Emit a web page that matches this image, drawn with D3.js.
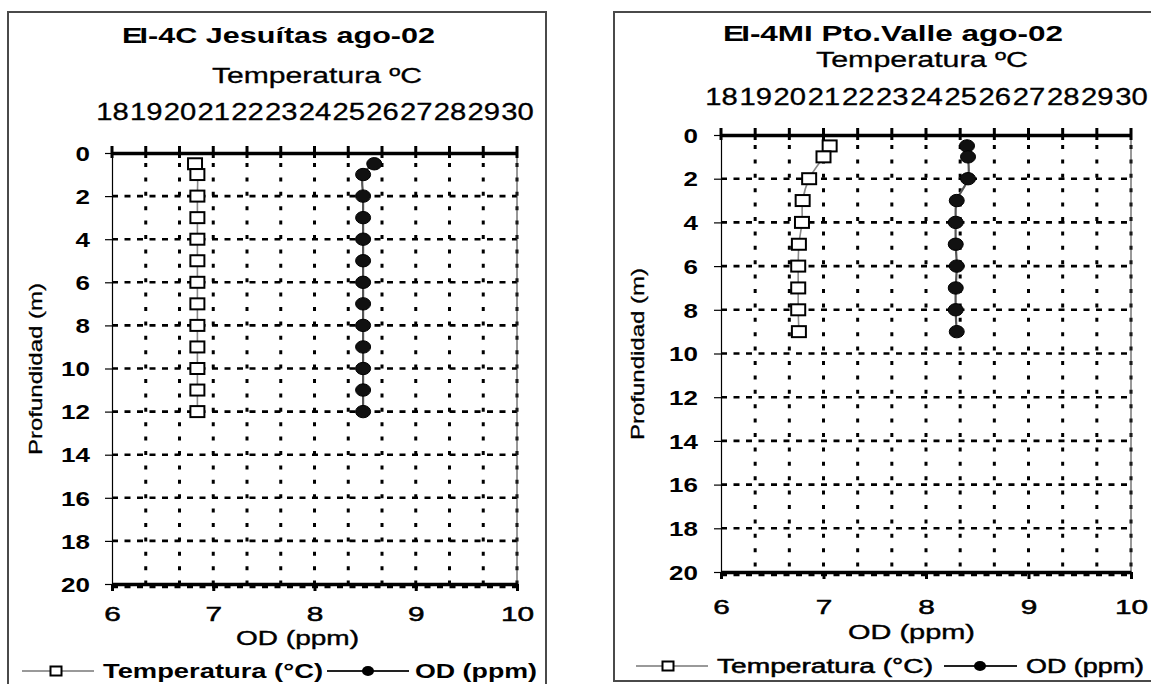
<!DOCTYPE html>
<html><head><meta charset="utf-8">
<script src="https://cdn.jsdelivr.net/npm/d3@7"></script>
<style>
html,body{margin:0;padding:0;background:#fff;}
svg{display:block;font-family:"Liberation Sans",Arial,sans-serif;}
</style></head>
<body>
<svg id="c" width="1151" height="684"></svg>
<script>
// ---- shared tick labels ----
const tempTicks = [18,19,20,21,22,23,24,25,26,27,28,29,30];
const odTicks = [6,7,8,9,10];
const depthTicks = [0,2,4,6,8,10,12,14,16,18,20];

// ---- chart 1 : EI-4C Jesuítas ago-02 ----
const jesDepth = [0.5,1,2,3,4,5,6,7,8,9,10,11,12];
const jesTemp  = [20.46,20.53,20.53,20.53,20.53,20.53,20.53,20.53,20.53,20.53,20.53,20.53,20.53];
const jesOD    = [8.59,8.48,8.48,8.48,8.48,8.48,8.48,8.48,8.48,8.48,8.48,8.48,8.48];

// ---- chart 2 : EI-4MI Pto.Valle ago-02 ----
const pvDepth = [0.5,1,2,3,4,5,6,7,8,9];
const pvTemp  = [21.18,21.0,20.58,20.39,20.37,20.28,20.26,20.26,20.26,20.28];
const pvOD    = [8.40,8.41,8.41,8.30,8.29,8.29,8.30,8.29,8.29,8.30];

const svg = d3.select("#c");

function addText(g, str, x, y, o){
  const t = g.append("text").attr("x", x).attr("y", y)
    .attr("font-size", o.size).attr("font-weight", o.weight||"normal")
    .attr("fill", "#000").text(str);
  if (o.width){ t.attr("textLength", o.width).attr("lengthAdjust","spacingAndGlyphs"); }
  if (o.anchor) t.attr("text-anchor", o.anchor);
  if (o.rotate!=null) t.attr("transform", `rotate(${o.rotate},${o.rx},${o.ry})`);
  if (o.dy) t.attr("dy", o.dy);
  if (o.stroke) t.attr("stroke", "#000").attr("stroke-width", o.stroke);
  return t;
}
function stretch(sel, sx){
  sel.each(function(){
    const t = d3.select(this);
    const x = +t.attr("x") || 0;
    t.attr("x", x / sx).attr("transform", `scale(${sx},1)`);
  });
}

function drawChart(cfg){
  const g = svg.append("g");
  // frame
  g.append("rect").attr("x", cfg.frame[0]).attr("y", cfg.frame[1])
    .attr("width", cfg.frame[2]).attr("height", cfg.frame[3])
    .attr("fill", "none").attr("stroke", "#4a4a4a").attr("stroke-width", 2);

  const [x0,x1,y0,y1] = cfg.plot;
  const tScale = d3.scaleLinear().domain([18,30]).range([x0,x1]);
  const oScale = d3.scaleLinear().domain([6,10]).range([x0,x1]);
  const dScale = d3.scaleLinear().domain([0,20]).range([y0,y1]);

  // gridlines
  const grid = g.append("g");
  grid.selectAll("line.h").data(depthTicks.filter(d => d > 0)).join("line")
    .attr("x1", x0).attr("x2", x1)
    .attr("y1", d => dScale(d) + (d === 20 ? 3 : 0)).attr("y2", d => dScale(d) + (d === 20 ? 3 : 0))
    .attr("stroke", "#000").attr("stroke-width", 2.6).attr("stroke-dasharray", "6 6.5");
  grid.selectAll("line.v").data(tempTicks.filter(d => d > 18)).join("line")
    .attr("x1", d => tScale(d)).attr("x2", d => tScale(d))
    .attr("y1", y0).attr("y2", y1)
    .attr("stroke", "#000").attr("stroke-width", 3).attr("stroke-dasharray", "4 10.4")
    .attr("stroke-dashoffset", -10);
  // right plot border
  g.append("line").attr("x1", x1).attr("x2", x1).attr("y1", y0).attr("y2", y1)
    .attr("stroke", "#333").attr("stroke-width", 1);

  // left axis
  const la = g.append("g").attr("transform", `translate(${x0},0)`)
    .call(d3.axisLeft(dScale).tickValues(depthTicks).tickSize(7).tickSizeOuter(0));
  la.select(".domain").attr("stroke", "#000").attr("stroke-width", 1.2);
  la.selectAll(".tick line").attr("stroke-width", 1.2);
  la.selectAll(".tick text").attr("x", -(x0 - cfg.yLabelRight)).attr("dy", "0.36em")
    .attr("font-size", 20).attr("font-weight", "bold").attr("font-family", null).attr("fill", "#000");
  stretch(la.selectAll(".tick text"), 1.3);

  // bottom axis
  const ba = g.append("g").attr("transform", `translate(0,${y1})`)
    .call(d3.axisBottom(oScale).tickValues(odTicks).tickFormat(d3.format("d")).tickSize(7).tickSizeOuter(0));
  ba.select(".domain").attr("stroke", "#000").attr("stroke-width", 3.5);
  ba.selectAll(".tick line").attr("stroke-width", 3);
  ba.selectAll(".tick text").attr("y", cfg.xLabelBase - y1).attr("dy", 0)
    .attr("font-size", 21).attr("font-family", null).attr("fill", "#000")
    .attr("stroke", "#000").attr("stroke-width", 0.5);
  stretch(ba.selectAll(".tick text"), 1.42);

  // top axis
  const ta = g.append("g").attr("transform", `translate(0,${y0})`)
    .call(d3.axisTop(tScale).tickValues(tempTicks).tickSize(0).tickSizeOuter(0));
  ta.select(".domain").attr("stroke", "#000").attr("stroke-width", 3.5);
  ta.selectAll(".tick text").attr("y", cfg.topLabelBase - y0).attr("dy", 0)
    .attr("font-size", 23).attr("font-family", null).attr("fill", "#000")
    .attr("stroke", "#000").attr("stroke-width", 0.3);
  stretch(ta.selectAll(".tick text"), 1.27);
  ta.selectAll("line.tm").data(tempTicks).join("line")
    .attr("x1", d => tScale(d)).attr("x2", d => tScale(d))
    .attr("y1", -7).attr("y2", 5).attr("stroke", "#000").attr("stroke-width", 3);

  // series lines
  const tPts = cfg.depth.map((d,i) => [tScale(cfg.temp[i]), dScale(d)]);
  const oPts = cfg.depth.map((d,i) => [oScale(cfg.od[i]), dScale(d)]);
  const line = d3.line().curve(d3.curveCatmullRom.alpha(0.5));
  g.append("path").attr("d", line(tPts)).attr("fill", "none")
    .attr("stroke", "#8a8a8a").attr("stroke-width", 1.6);
  g.append("path").attr("d", line(oPts)).attr("fill", "none")
    .attr("stroke", "#555").attr("stroke-width", 2.2);

  // markers
  g.selectAll("rect.m").data(tPts).join("rect")
    .attr("x", d => d[0] - 7).attr("y", d => d[1] - 5.5)
    .attr("width", 14).attr("height", 11)
    .attr("fill", "#fff").attr("stroke", "#000").attr("stroke-width", 2);
  g.selectAll("ellipse.m").data(oPts).join("ellipse")
    .attr("cx", d => d[0]).attr("cy", d => d[1]).attr("rx", 7.5).attr("ry", 6.2)
    .attr("fill", "#111").attr("stroke", "#000").attr("stroke-width", 1);

  // titles
  const tt = g.append("text").attr("x", cfg.title.x).attr("y", cfg.title.y)
    .attr("font-size", 22).attr("font-weight", "bold").attr("fill", "#000")
    .attr("textLength", cfg.title.w).attr("lengthAdjust", "spacingAndGlyphs");
  tt.append("tspan").text("E");
  tt.append("tspan").attr("dx", -2).text("I" + cfg.title.rest);

  addText(g, "Temperatura ºC", cfg.tl.x, cfg.tl.y, {size: 22, width: cfg.tl.w, stroke: 0.3});
  addText(g, "OD (ppm)", cfg.xt.x, cfg.xt.y, {size: 21, width: cfg.xt.w, stroke: 0.4});
  addText(g, "Profundidad (m)", cfg.yt.cx - cfg.yt.len/2, cfg.yt.cy, {size: 19, width: cfg.yt.len,
    rotate: -90, rx: cfg.yt.cx, ry: cfg.yt.cy, dy: "0.36em", stroke: 0.3});
  // legend
  const L = cfg.legend;
  g.append("line").attr("x1", L.l1[0]).attr("x2", L.l1[1]).attr("y1", L.y).attr("y2", L.y)
    .attr("stroke", "#777").attr("stroke-width", 1.6);
  g.append("rect").attr("x", L.m1 - 5.5).attr("y", L.y - 4.5).attr("width", 11).attr("height", 9)
    .attr("fill", "#fff").attr("stroke", "#000").attr("stroke-width", 2);
  addText(g, "Temperatura (°C)", L.t1[0], L.y, {size: 20, width: L.t1[1], weight: L.weight, dy: "0.36em", stroke: L.stroke});
  g.append("line").attr("x1", L.l2[0]).attr("x2", L.l2[1]).attr("y1", L.y).attr("y2", L.y)
    .attr("stroke", "#222").attr("stroke-width", 1.8);
  g.append("ellipse").attr("cx", L.m2).attr("cy", L.y).attr("rx", 6).attr("ry", 5).attr("fill", "#000");
  addText(g, "OD (ppm)", L.t2[0], L.y, {size: 20, width: L.t2[1], weight: L.weight, dy: "0.36em", stroke: L.stroke});
}

drawChart({
  frame: [8, 12, 538, 700],
  plot: [112, 517, 153, 584],
  depth: jesDepth, temp: jesTemp, od: jesOD,
  yLabelRight: 90, xLabelBase: 621, topLabelBase: 120,
  title: {x: 122, y: 43, w: 313, rest: "-4C Jesuítas ago-02"},
  tl: {x: 212, y: 83, w: 210},
  xt: {x: 236, y: 645, w: 123},
  yt: {cx: 35, cy: 369, len: 172},
  legend: {y: 671, l1: [22, 94], m1: 56, t1: [103, 220], l2: [327, 409], m2: 368, t2: [415, 122], weight: "bold", stroke: 0}
});
drawChart({
  frame: [614, 12, 560, 669],
  plot: [721, 1131, 135, 572],
  depth: pvDepth, temp: pvTemp, od: pvOD,
  yLabelRight: 698, xLabelBase: 614, topLabelBase: 105,
  title: {x: 723, y: 41, w: 340, rest: "-4MI Pto.Valle ago-02"},
  tl: {x: 816, y: 67, w: 212},
  xt: {x: 848, y: 639, w: 127},
  yt: {cx: 637, cy: 354, len: 172},
  legend: {y: 666, l1: [636, 708], m1: 668, t1: [717, 216], l2: [944, 1017], m2: 980, t2: [1026, 118], weight: "normal", stroke: 0.5}
});
</script>
</body></html>
